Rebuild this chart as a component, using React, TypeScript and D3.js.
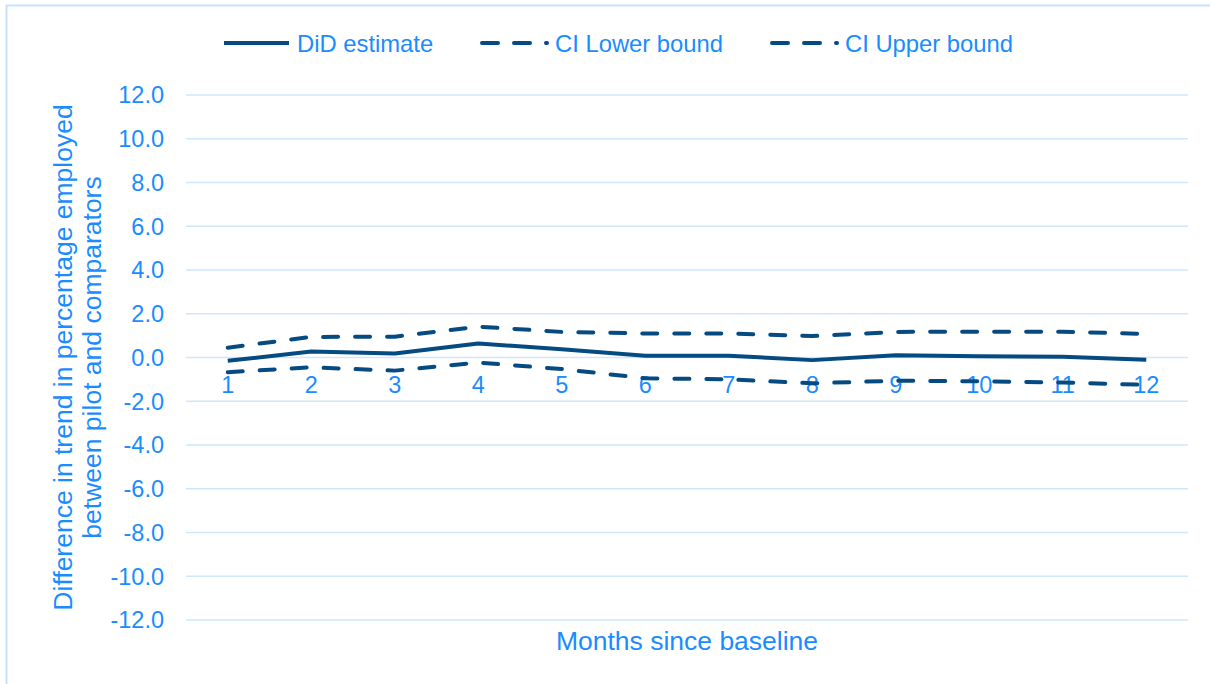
import React from "react";
import * as d3 from "d3";

const months = ["1", "2", "3", "4", "5", "6", "7", "8", "9", "10", "11", "12"];
const didEstimate = [-0.15, 0.27, 0.18, 0.64, 0.38, 0.08, 0.08, -0.12, 0.1, 0.06, 0.03, -0.1];
const ciLower = [-0.67, -0.45, -0.6, -0.23, -0.53, -0.95, -1.0, -1.18, -1.06, -1.09, -1.14, -1.25];
const ciUpper = [0.45, 0.94, 0.95, 1.41, 1.17, 1.1, 1.1, 0.98, 1.17, 1.18, 1.18, 1.08];
const yTicks = [12, 10, 8, 6, 4, 2, 0, -2, -4, -6, -8, -10, -12];

const W = 1210;
const H = 684;
const LINE = "#064a82";
const TEXT = "#1a8cff";
const GRID = "#cfe6fb";
const FONT = "'Liberation Sans', Arial, sans-serif";
const DASH = "15 17";

export default function App() {
  const x = d3.scaleBand<string>().domain(months).range([186, 1188]);
  const y = d3.scaleLinear().domain([-12, 12]).range([620, 95]);
  const cx = (m: string) => (x(m) as number) + x.bandwidth() / 2;

  const line = d3
    .line<number>()
    .x((_, i) => cx(months[i]))
    .y((v) => y(v));

  const series = [
    { name: "DiD estimate", values: didEstimate, dash: undefined as string | undefined, lx: 224 },
    { name: "CI Lower bound", values: ciLower, dash: DASH, lx: 482 },
    { name: "CI Upper bound", values: ciUpper, dash: DASH, lx: 772 },
  ];

  return (
    <svg
      width={W}
      height={H}
      style={{ position: "absolute", left: 0, top: 0, background: "#fff" }}
      fontFamily={FONT}
    >
      <rect x={0} y={0} width={W} height={H} fill="#fff" />
      <rect x={6.5} y={5.5} width={W + 20} height={H + 20} fill="none" stroke="#c6e2fb" strokeWidth={2} />

      {/* gridlines */}
      {yTicks.map((t) => (
        <line key={t} x1={186} x2={1188} y1={y(t)} y2={y(t)} stroke={GRID} strokeWidth={1.5} />
      ))}

      {/* y tick labels */}
      {yTicks.map((t) => (
        <text key={t} x={164} y={y(t)} dy="0.36em" textAnchor="end" fontSize={23.5} fill={TEXT}>
          {t.toFixed(1)}
        </text>
      ))}

      {/* x tick labels */}
      {months.map((m) => (
        <text key={m} x={cx(m)} y={393} textAnchor="middle" fontSize={23.5} fill={TEXT}>
          {m}
        </text>
      ))}

      {/* lines */}
      {series.map((s) => (
        <path
          key={s.name}
          d={line(s.values) as string}
          fill="none"
          stroke={LINE}
          strokeWidth={4}
          strokeDasharray={s.dash}
          strokeLinecap={s.dash ? "round" : "butt"}
          strokeLinejoin="round"
        />
      ))}

      {/* legend */}
      {series.map((s) => (
        <g key={s.name}>
          <line
            x1={s.lx}
            x2={s.lx + 65}
            y1={43}
            y2={43}
            stroke={LINE}
            strokeWidth={4}
            strokeDasharray={s.dash ? "16 16" : undefined}
            strokeLinecap={s.dash ? "round" : "butt"}
          />
          <text x={s.lx + 73} y={43} dy="0.36em" fontSize={23.8} fill={TEXT}>
            {s.name}
          </text>
        </g>
      ))}

      {/* axis titles */}
      <text x={687} y={640} dy="0.36em" textAnchor="middle" fontSize={26.5} fill={TEXT}>
        Months since baseline
      </text>
      <g transform={`translate(62, ${y(0)}) rotate(-90)`}>
        <text x={0} y={0} dy="0.36em" textAnchor="middle" fontSize={26.5} fill={TEXT}>
          Difference in trend in percentage employed
        </text>
        <text x={0} y={29} dy="0.36em" textAnchor="middle" fontSize={26.5} fill={TEXT}>
          between pilot and comparators
        </text>
      </g>
    </svg>
  );
}
